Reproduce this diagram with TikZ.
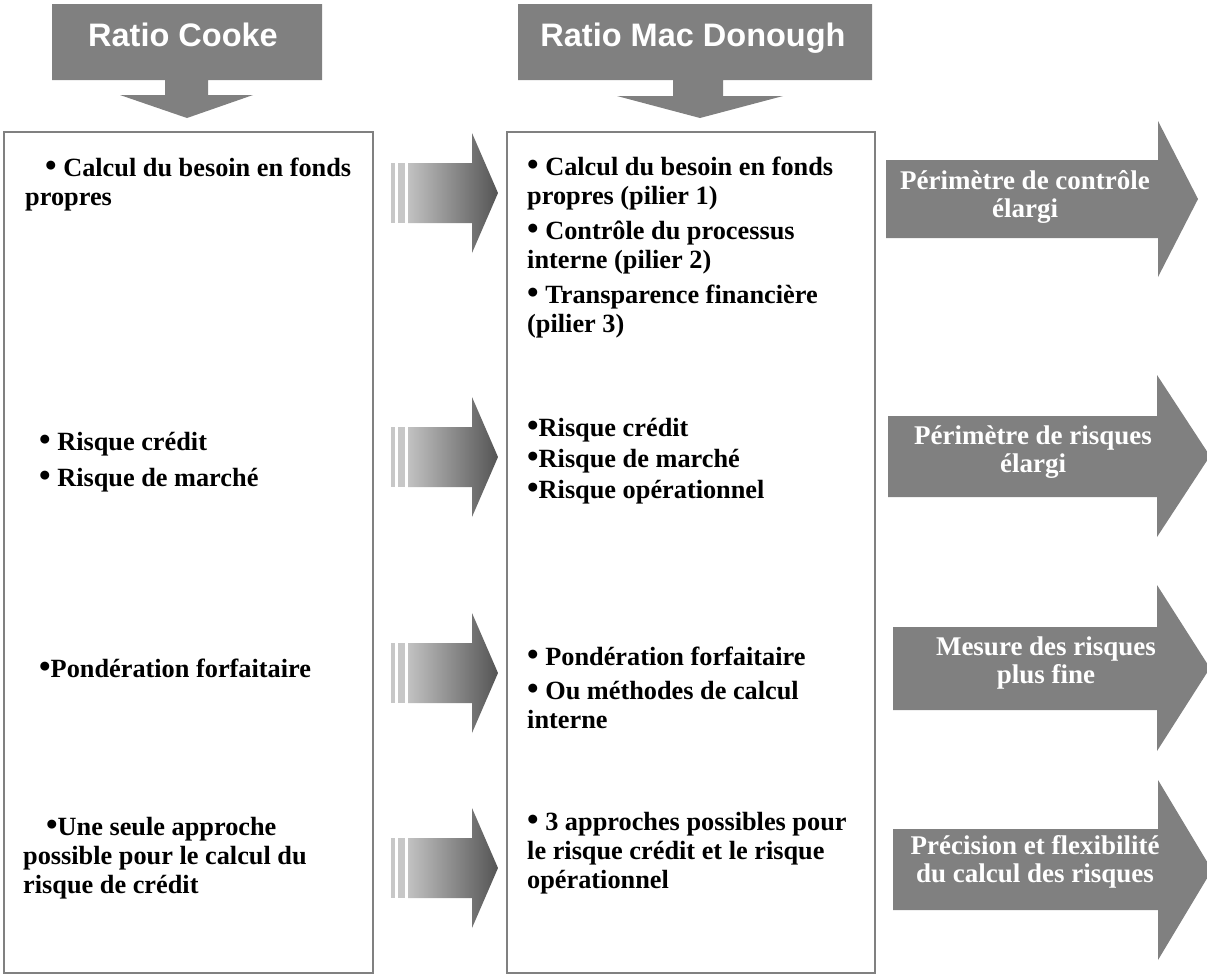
\documentclass[tikz,border=0pt]{standalone}
\usepackage{fontspec}
\usepackage{graphicx}
\usepackage{tikz}
\setmainfont{Liberation Serif}
\newfontfamily\headfont{Liberation Sans}
\definecolor{framegray}{rgb}{0.5,0.5,0.5}
\definecolor{arrowgray}{rgb}{0.5,0.5,0.5}
\definecolor{stripegray}{rgb}{0.78,0.78,0.78}
\definecolor{shadelight}{rgb}{0.76,0.76,0.76}
\definecolor{shadedark}{rgb}{0.33,0.33,0.33}
\newcommand{\bul}{\scalebox{1.25}{•}}

\begin{document}
\begin{tikzpicture}[x=1pt, y=-1pt, frame/.style = {draw=framegray, line width=1.5pt}, block/.style = {fill=arrowgray}, stripe/.style = {fill=stripegray}, shaft/.style = {left color=shadelight, right color=shadedark}, title/.style = {anchor=base, text=white, font=\headfont\bfseries\fontsize{32.5}{36}\selectfont}, item/.style = {anchor=north west, align=left, inner sep=0pt, font=\bfseries\fontsize{26.3}{29}\selectfont}, result/.style = {align=center, inner sep=0pt, text=white, font=\bfseries\fontsize{27}{28}\selectfont}]
	\fill[white] (0,0) rectangle (1207,978);
	\useasboundingbox (0,0) rectangle (1207,978);

	\fill[block] (52,4) -- (322,4) -- (322,80) -- (208,80) -- (208,95) -- (253,95) -- (187,118) -- (120,95) -- (165,95) -- (165,80) -- (52,80) -- cycle;
	\fill[block] (518,4) -- (872,4) -- (872,80) -- (723,80) -- (723,96) -- (783,96) -- (700,118) -- (617,96) -- (673,96) -- (673,80) -- (518,80) -- cycle;
	\node[title] (cooke) at (183,46) {Ratio Cooke};
	\node[title] (mcdonough) at (693,46) {Ratio Mac Donough};

	\draw[frame] (4,132) rectangle (373,973);
	\draw[frame] (507,132) rectangle (875,973);

	\fill[stripe] (391,163) rectangle (395,223);
	\fill[stripe] (398,163) rectangle (405,223);
	\shade[shaft] (408,163) -- (472,163) -- (472,133) -- (498,193) -- (472,253) -- (472,223) -- (408,223) -- cycle;
	\fill[stripe] (391,427) rectangle (395,487);
	\fill[stripe] (398,427) rectangle (405,487);
	\shade[shaft] (408,427) -- (472,427) -- (472,397) -- (498,457) -- (472,517) -- (472,487) -- (408,487) -- cycle;
	\fill[stripe] (391,643) rectangle (395,703);
	\fill[stripe] (398,643) rectangle (405,703);
	\shade[shaft] (408,643) -- (472,643) -- (472,613) -- (498,673) -- (472,733) -- (472,703) -- (408,703) -- cycle;
	\fill[stripe] (391,838) rectangle (395,898);
	\fill[stripe] (398,838) rectangle (405,898);
	\shade[shaft] (408,838) -- (472,838) -- (472,808) -- (498,868) -- (472,928) -- (472,898) -- (408,898) -- cycle;

	\fill[block] (886,160) -- (1158,160) -- (1158,121) -- (1198,199) -- (1158,277) -- (1158,238) -- (886,238) -- cycle;
	\fill[block] (888,416) -- (1157,416) -- (1157,375) -- (1210,456) -- (1157,537) -- (1157,497) -- (888,497) -- cycle;
	\fill[block] (893,627) -- (1157,627) -- (1157,585) -- (1210,668) -- (1157,751) -- (1157,710) -- (893,710) -- cycle;
	\fill[block] (893,829) -- (1158,829) -- (1158,780) -- (1212,870) -- (1158,960) -- (1158,910) -- (893,910) -- cycle;

	\node[item] (cooke1) at (25,158) {\hspace*{20pt}\bul{} Calcul du besoin en fonds\\propres};
	\node[item] (cooke2) at (39,432) {\bul{} Risque crédit\\[7pt]\bul{} Risque de marché};
	\node[item] (cooke3) at (39,659) {\bul Pondération forfaitaire};
	\node[item] (cooke4) at (23,817) {\hspace*{23pt}\bul Une seule approche\\possible pour le calcul du\\risque de crédit};

	\node[item] (mcd1) at (527,157) {\bul{} Calcul du besoin en fonds\\propres (pilier 1)\\[6pt]\bul{} Contrôle du processus\\interne (pilier 2)\\[6pt]\bul{} Transparence financière\\(pilier 3)};
	\node[item] (mcd2) at (527,418) {\bul Risque crédit\\[2pt]\bul Risque de marché\\[2pt]\bul Risque opérationnel};
	\node[item] (mcd3) at (527,647) {\bul{} Pondération forfaitaire\\[5pt]\bul{} Ou méthodes de calcul\\interne};
	\node[item] (mcd4) at (527,812) {\bul{} 3 approches possibles pour\\le risque crédit et le risque\\opérationnel};

	\node[result] (gain1) at (1025,197) {Périmètre de contrôle\\élargi};
	\node[result] (gain2) at (1033,452) {Périmètre de risques\\élargi};
	\node[result] (gain3) at (1046,663) {Mesure des risques\\plus fine};
	\node[result] (gain4) at (1035,862) {Précision et flexibilité\\du calcul des risques};
\end{tikzpicture}
\end{document}
